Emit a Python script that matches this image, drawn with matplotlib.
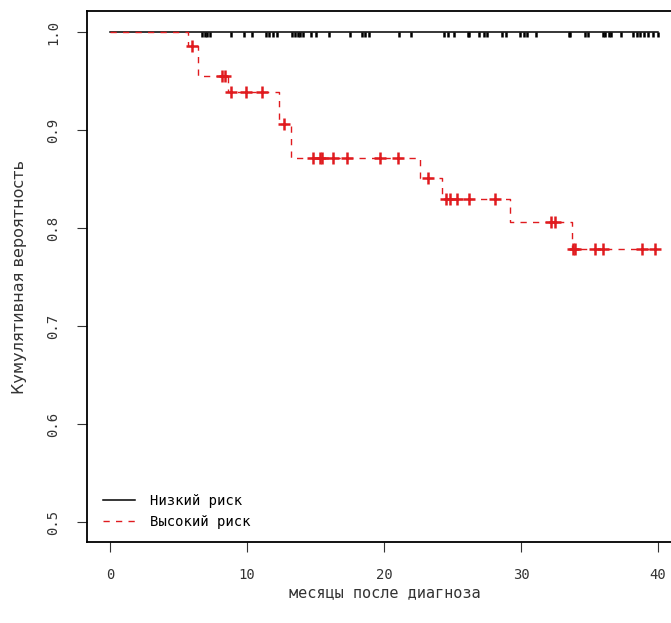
import numpy as np
import matplotlib.pyplot as plt

# low risk group: no events, only censoring marks
low_end = 40.0
low_censor = [6.7, 6.9, 7.1, 7.3, 8.8, 9.8, 10.4, 11.4, 11.6, 11.9, 12.2, 13.3, 13.5,
              13.7, 13.9, 14.1, 14.7, 15.0, 16.0, 17.5, 18.4, 18.6, 18.9, 21.1, 22.0,
              24.4, 24.7, 25.1, 26.1, 26.2, 26.9, 27.3, 27.5, 28.6, 28.9, 29.9, 30.2,
              30.4, 31.1, 33.5, 33.6, 34.7, 34.9, 36.0, 36.1, 36.4, 36.6, 37.3, 38.2,
              38.5, 38.7, 39.0, 39.3, 39.6, 40.0]

# high risk group: step times and survival after each step
high_times = [0, 5.7, 6.4, 8.6, 12.3, 13.2, 22.6, 24.2, 29.2, 33.7]
high_surv = [1.0, 0.986, 0.955, 0.939, 0.906, 0.871, 0.851, 0.830, 0.806, 0.779]
high_end = 39.9
high_censor = [5.95, 8.2, 8.4, 8.8, 9.9, 11.1, 12.7, 14.8, 15.3, 15.5, 16.3, 17.3,
               19.7, 21.0, 23.2, 24.5, 24.8, 25.3, 26.2, 28.1, 32.2, 32.5, 33.8,
               33.95, 35.4, 36.0, 38.8, 39.8]

red = '#e01b1f'
mono = 'DejaVu Sans Mono'

fig = plt.figure(figsize=(6.71, 6.23), dpi=100)
ax = fig.add_axes([87/671, 81/623, 595/671, 531/623])

# low risk
ax.plot([0, low_end], [1.0, 1.0], color='black', lw=1.1, label='Низкий риск')
ax.vlines(low_censor, 0.9948, 1.0, color='black', lw=1.8)

# high risk
t = np.array(high_times + [high_end])
s = np.array(high_surv + [high_surv[-1]])
ax.step(t, s, where='post', color=red, lw=1.0, linestyle=(0, (4.5, 4.5)),
        label='Высокий риск')
idx = np.searchsorted(t, high_censor, side='right') - 1
ax.plot(high_censor, s[idx], linestyle='none', marker='+', color=red,
        markersize=9, markeredgewidth=1.8)

ax.set_xlim(-1.68, 41.75)
ax.set_ylim(0.4796, 1.0214)
ax.set_xticks([0, 10, 20, 30, 40])
ax.set_yticks([0.5, 0.6, 0.7, 0.8, 0.9, 1.0])
ax.set_yticklabels(['0.5', '0.6', '0.7', '0.8', '0.9', '1.0'], rotation=90, va='center')
ax.tick_params(length=7, width=0.8, color='#333333', labelsize=10, pad=12)
for lab in ax.get_xticklabels() + ax.get_yticklabels():
    lab.set_family(mono)
    lab.set_color('#333333')
for sp in ax.spines.values():
    sp.set_linewidth(1.3)

ax.set_xlabel('месяцы после диагноза', family=mono, fontsize=11, color='#333333',
              labelpad=2)
ax.set_ylabel('Кумулятивная вероятность', fontsize=11.5, color='#333333', labelpad=14)

ax.legend(loc='lower left', bbox_to_anchor=(0.027, 0.024), frameon=False,
          borderpad=0, borderaxespad=0, handlelength=2.3, handletextpad=1.1,
          labelspacing=0.5, prop={'family': mono, 'size': 10})

fig.savefig('out.png', dpi=100)
